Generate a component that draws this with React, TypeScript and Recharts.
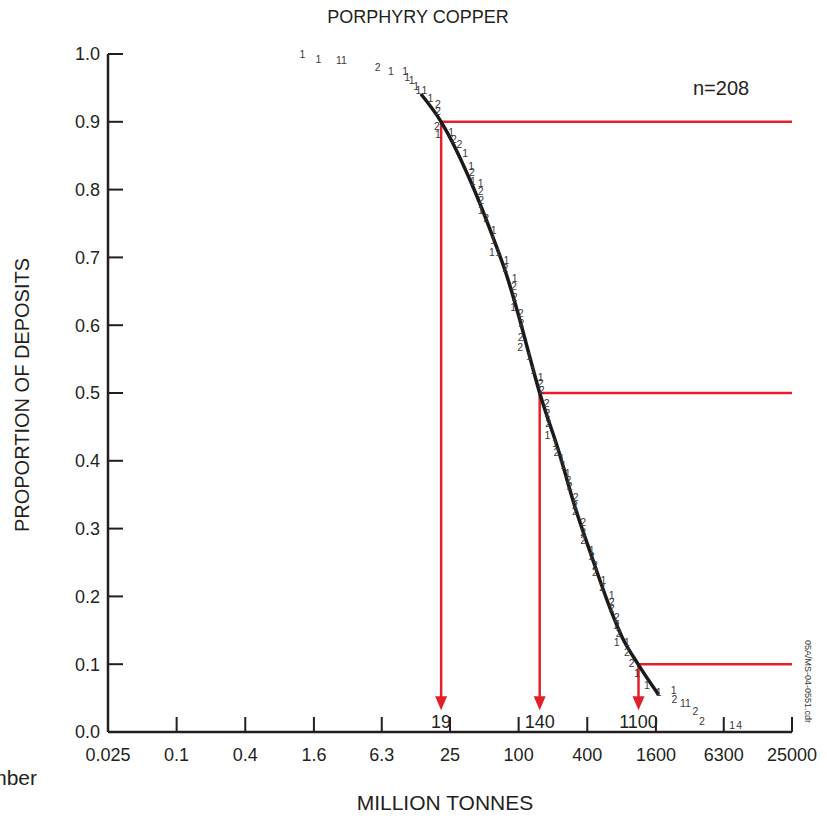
import { ComposedChart, Line, Scatter, XAxis, YAxis, ReferenceLine } from 'recharts';

const INK = '#231f20';
const RED = '#e3202a';
const FONT = '"Liberation Sans", Arial, Helvetica, sans-serif';

// axis ticks (log x, factor 4 per step)
const xTicks = [0.025, 0.1, 0.4, 1.6, 6.3, 25, 100, 400, 1600, 6300, 25000];
const yTicks = [0, 0.1, 0.2, 0.3, 0.4, 0.5, 0.6, 0.7, 0.8, 0.9, 1.0];

// fitted curve
const curveTonnes = [13.9, 20.9, 38.4, 57.6, 77.3, 98.5, 122.6, 153, 223, 312, 437, 656, 803, 1126, 1689];
const curveProportion = [0.941, 0.9, 0.81, 0.736, 0.677, 0.618, 0.559, 0.5, 0.416, 0.332, 0.259, 0.176, 0.141, 0.099, 0.055];

// deposit counts plotted as digits
const digitTonnes = [
  1.27, 1.75, 2.65, 2.93, 5.79, 7.59, 10.1, 10.5, 11.5, 12.6, 13.2, 14.9, 16.8, 19.6, 19.6, 19.2, 19.6, 25.6,
  27.0, 30.3, 34.0, 38.4, 39.0, 39.7, 46.4, 46.4, 47.0, 46.4, 52.0, 60.3, 59.8, 58.4, 66.0, 78.0, 76.5, 92.3,
  91.1, 92.3, 89.4, 104, 106, 104, 103, 123, 134, 156, 156, 159, 176, 179, 182, 179, 208, 215, 238, 247, 269,
  273, 281, 316, 311, 311, 369, 369, 369, 437, 437, 467, 467, 554, 541, 656, 656, 656, 726, 726, 755, 726, 889,
  889, 983, 1088, 1332, 1689, 2289, 2320, 2764, 3059, 3546, 4062, 7460, 8600,
];
const digitProportion = [
  1.0, 0.993, 0.991, 0.991, 0.981, 0.975, 0.975, 0.966, 0.961, 0.953, 0.946, 0.946, 0.935, 0.926, 0.916, 0.894,
  0.882, 0.884, 0.875, 0.867, 0.854, 0.834, 0.826, 0.812, 0.809, 0.797, 0.785, 0.77, 0.758, 0.74, 0.726, 0.708,
  0.708, 0.696, 0.684, 0.669, 0.657, 0.642, 0.627, 0.618, 0.603, 0.583, 0.568, 0.554, 0.534, 0.524, 0.514, 0.504,
  0.485, 0.47, 0.455, 0.438, 0.426, 0.413, 0.404, 0.394, 0.382, 0.372, 0.362, 0.347, 0.335, 0.325, 0.31, 0.295,
  0.283, 0.268, 0.259, 0.246, 0.236, 0.224, 0.213, 0.202, 0.192, 0.182, 0.17, 0.158, 0.146, 0.133, 0.133, 0.118,
  0.101, 0.087, 0.069, 0.059, 0.061, 0.048, 0.042, 0.042, 0.031, 0.016, 0.01, 0.01,
];
const digitCount = [
  '1', '1', '1', '1', '2', '1', '1', '1', '1', '1', '1', '1', '1', '2', '2', '2', '1', '1',
  '2', '2', '1', '1', '2', '1', '1', '2', '2', '1', '2', '1', '1', '1', '1', '1', '2', '1',
  '2', '2', '1', '2', '2', '2', '2', '1', '1', '1', '2', '2', '2', '2', '2', '1', '1', '2', '1', '1', '1',
  '2', '2', '2', '2', '2', '2', '2', '2', '1', '2', '2', '2', '1', '2', '1', '2', '2', '2', '2', '2', '1', '1',
  '2', '2', '1', '1', '1', '1', '2', '1', '1', '2', '2', '1', '4',
];

// 90th / 50th / 10th percentile guides
const guideTonnes = [20.9, 153, 1126];
const guideProportion = [0.9, 0.5, 0.1];
const guideLabels = ['19', '140', '1100'];
const arrowTipProportion = 0.032;
const rightEdgeTonnes = 25000;

const curveData = curveTonnes.map((x, i) => ({ x, y: curveProportion[i] }));
const digitData = digitTonnes.map((x, i) => ({ x, y: digitProportion[i], n: digitCount[i] }));
const arrowData = guideTonnes.map((x, i) => ({ x, y: arrowTipProportion, label: guideLabels[i] }));

const Digit = (props: any) => {
  const { cx, cy, payload } = props;
  return (
    <text x={cx} y={cy} dy="0.36em" textAnchor="middle" fontSize={10.5} fontFamily={FONT} fill="#3a3a3a">
      {payload.n}
    </text>
  );
};

const ArrowHead = (props: any) => {
  const { cx, cy, payload } = props;
  return (
    <g>
      <path d={`M${cx - 6},${cy - 14} L${cx + 6},${cy - 14} L${cx},${cy} Z`} fill={RED} />
      <text x={cx} y={cy + 18} textAnchor="middle" fontSize={18} fontFamily={FONT} fill={INK}>
        {payload.label}
      </text>
    </g>
  );
};

const tickStyle = { fill: INK, fontSize: 18, fontFamily: FONT };
const axisLineStyle = { stroke: INK, strokeWidth: 2.5 };
const tickLineStyle = { stroke: INK, strokeWidth: 2 };

const abs = (extra: React.CSSProperties): React.CSSProperties => ({
  position: 'absolute', fontFamily: FONT, color: INK, whiteSpace: 'nowrap', ...extra,
});

export default function App() {
  return (
    <div style={{ position: 'absolute', left: 0, top: 0, width: 827, height: 819, background: '#fff' }}>
      <ComposedChart width={827} height={819} data={curveData} margin={{ top: 54, right: 35, bottom: 47, left: 48 }}>
        <XAxis
          dataKey="x" type="number" scale="log" domain={[0.025, 25000]} ticks={xTicks} interval={0}
          height={40} tick={tickStyle} tickSize={-15} tickMargin={31}
          axisLine={axisLineStyle} tickLine={tickLineStyle} tickFormatter={(v) => String(v)}
        />
        <XAxis
          xAxisId="top" orientation="top" dataKey="x" type="number" scale="log" domain={[0.025, 25000]}
          allowDataOverflow ticks={xTicks} interval={0} height={0} tick={false} tickSize={-15}
          axisLine={axisLineStyle} tickLine={tickLineStyle}
        />
        <YAxis
          dataKey="y" type="number" domain={[0, 1]} ticks={yTicks} interval={0} width={60}
          tick={tickStyle} tickSize={-15} tickMargin={23}
          axisLine={axisLineStyle} tickLine={tickLineStyle} tickFormatter={(v) => Number(v).toFixed(1)}
        />
        <YAxis
          yAxisId="right" orientation="right" dataKey="y" type="number" domain={[0, 1]} allowDataOverflow
          ticks={yTicks} interval={0} width={0} tick={false} tickSize={-15}
          axisLine={axisLineStyle} tickLine={tickLineStyle}
        />

        {guideTonnes.map((g, i) => (
          <ReferenceLine
            key={`h${i}`}
            segment={[{ x: g, y: guideProportion[i] }, { x: rightEdgeTonnes, y: guideProportion[i] }]}
            stroke={RED} strokeWidth={2.5}
          />
        ))}
        {guideTonnes.map((g, i) => (
          <ReferenceLine
            key={`v${i}`}
            segment={[{ x: g, y: guideProportion[i] }, { x: g, y: arrowTipProportion + 0.01 }]}
            stroke={RED} strokeWidth={2.5}
          />
        ))}

        <Scatter data={arrowData} shape={ArrowHead} isAnimationActive={false} legendType="none" />
        <Scatter data={digitData} shape={Digit} isAnimationActive={false} legendType="none" />
        <Line
          data={curveData} dataKey="y" type="monotone" stroke="#1a1a1a" strokeWidth={3.5}
          dot={false} activeDot={false} isAnimationActive={false} legendType="none"
        />
      </ComposedChart>

      <div style={abs({ left: 218, top: 7, width: 400, textAlign: 'center', fontSize: 18, lineHeight: '20px' })}>
        PORPHYRY COPPER
      </div>
      <div style={abs({ left: 693, top: 77, fontSize: 20, lineHeight: '22px' })}>n=208</div>
      <div
        style={abs({
          left: 22 - 200, top: 395 - 11, width: 400, height: 22, textAlign: 'center',
          fontSize: 20, lineHeight: '22px', transform: 'rotate(-90deg)', transformOrigin: 'center',
        })}
      >
        PROPORTION OF DEPOSITS
      </div>
      <div style={abs({ left: 245, top: 792, width: 400, textAlign: 'center', fontSize: 21, lineHeight: '22px' })}>
        MILLION TONNES
      </div>
      <div style={abs({ left: -100, top: 767, width: 137, textAlign: 'right', fontSize: 21, lineHeight: '22px' })}>
        Number
      </div>
      <div style={abs({ left: 802, top: 640, fontSize: 9, lineHeight: '11px', writingMode: 'vertical-rl', color: '#333' })}>
        05A/MS-04-0551.cdr
      </div>
    </div>
  );
}
